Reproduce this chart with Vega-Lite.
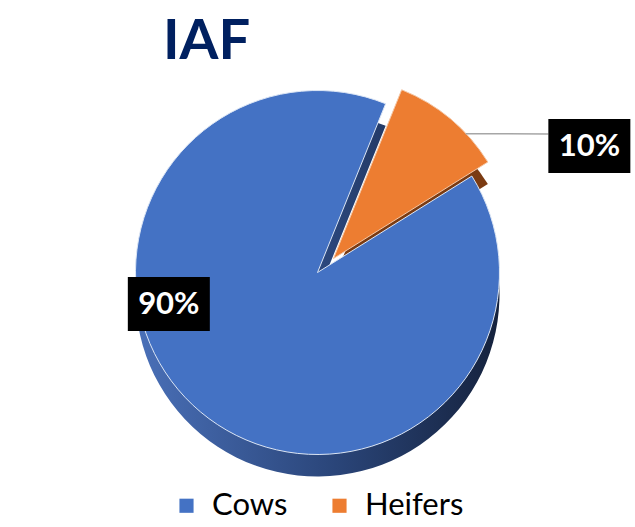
{
  "$schema": "https://vega.github.io/schema/vega-lite/v6.json",
  "width": 635,
  "height": 527,
  "autosize": {"type": "fit", "contains": "padding"},
  "padding": {"top": 14, "left": 0, "right": 0, "bottom": 6},
  "background": "white",
  "title": {"text": "IAF", "anchor": "start", "dx": 163, "font": "Lato", "fontSize": 56, "fontWeight": "bold", "color": "#002060", "offset": 2},
  "data": {"values": [
    {"category": "Cows", "value": 90, "label": "90%"},
    {"category": "Heifers", "value": 10, "label": "10%"}
  ]},
  "transform": [
    {"stack": "value", "groupby": [], "sort": [{"field": "category", "order": "descending"}], "as": ["v0", "v1"]},
    {"calculate": "(datum.v0 + datum.v1) / 2", "as": "vm"}
  ],
  "layer": [
    {
      "transform": [{"filter": "datum.category === 'Cows'"}],
      "mark": {"type": "arc", "radius": 182, "yOffset": 22,
        "fill": {"gradient": "linear", "x1": 0, "y1": 0, "x2": 1, "y2": 0,
          "stops": [{"offset": 0, "color": "#4A70B8"}, {"offset": 0.55, "color": "#2A4579"}, {"offset": 1, "color": "#15223D"}]}},
      "encoding": {
        "theta": {"field": "v0", "type": "quantitative", "scale": {"domain": [0, 100], "range": [0.384, 6.667]}},
        "theta2": {"field": "v1"}
      }
    },
    {
      "transform": [{"filter": "datum.category === 'Heifers'"}],
      "mark": {"type": "arc", "radius": 182, "xOffset": 16, "yOffset": 8, "fill": "#7B3B12"},
      "encoding": {
        "theta": {"field": "v0", "type": "quantitative", "scale": {"domain": [0, 100], "range": [0.384, 6.667]}},
        "theta2": {"field": "v1"}
      }
    },
    {
      "transform": [{"filter": "datum.category === 'Cows'"}],
      "mark": {"type": "arc", "radius": 182, "stroke": "#DCE6F5", "strokeWidth": 1},
      "encoding": {
        "theta": {"field": "v0", "type": "quantitative", "scale": {"domain": [0, 100], "range": [0.384, 6.667]}},
        "theta2": {"field": "v1"},
        "color": {"field": "category", "type": "nominal",
          "scale": {"domain": ["Cows", "Heifers"], "range": ["#4472C4", "#ED7D31"]},
          "legend": {"title": null, "orient": "bottom", "direction": "horizontal", "symbolType": "square", "symbolSize": 200, "symbolStrokeWidth": 0, "labelFont": "Lato", "labelFontSize": 31, "labelColor": "black", "columnPadding": 36, "labelOffset": 10}}
      }
    },
    {
      "transform": [{"filter": "datum.category === 'Heifers'"}],
      "mark": {"type": "arc", "radius": 182, "xOffset": 16, "yOffset": -14, "stroke": "#F4C7A6", "strokeWidth": 1},
      "encoding": {
        "theta": {"field": "v0", "type": "quantitative", "scale": {"domain": [0, 100], "range": [0.384, 6.667]}},
        "theta2": {"field": "v1"},
        "color": {"field": "category", "type": "nominal",
          "scale": {"domain": ["Cows", "Heifers"], "range": ["#4472C4", "#ED7D31"]},
          "legend": {"title": null, "orient": "bottom", "direction": "horizontal", "symbolType": "square", "symbolSize": 200, "symbolStrokeWidth": 0, "labelFont": "Lato", "labelFontSize": 31, "labelColor": "black", "columnPadding": 36, "labelOffset": 10}}
      }
    },
    {
      "transform": [
        {"calculate": "0.384 + datum.vm / 100 * 2 * PI + (datum.category === 'Cows' ? 0.663 : 0.436)", "as": "ang"},
        {"calculate": "datum.category === 'Cows' ? 152 : 300", "as": "lr"},
        {"calculate": "datum.lr * sin(datum.ang)", "as": "lx"},
        {"calculate": "datum.lr * cos(datum.ang)", "as": "ly"},
        {"calculate": "0.384 + datum.v1 / 100 * 2 * PI - 0.2", "as": "ea"},
        {"calculate": "182 * sin(datum.ea) + 16", "as": "sx"},
        {"calculate": "182 * cos(datum.ea) + 14", "as": "sy"},
        {"calculate": "datum.lx - 41", "as": "ex"},
        {"calculate": "datum.ly + 12", "as": "ey"}
      ],
      "layer": [
        {
          "transform": [{"filter": "datum.category === 'Heifers'"}],
          "mark": {"type": "rule", "color": "#A6A6A6", "strokeWidth": 1.5},
          "encoding": {
            "x": {"field": "sx", "type": "quantitative", "scale": {"domain": [-317.5, 317.5], "nice": false, "zero": false}, "axis": null},
            "y": {"field": "sy", "type": "quantitative", "scale": {"domain": [-200, 200], "nice": false, "zero": false}, "axis": null},
            "x2": {"field": "ex"},
            "y2": {"field": "ey"}
          }
        },
        {
          "mark": {"type": "point", "shape": "M-1,-0.66L1,-0.66L1,0.66L-1,0.66Z", "size": 6724, "filled": true, "fill": "black", "opacity": 1, "strokeWidth": 0},
          "encoding": {
            "x": {"field": "lx", "type": "quantitative", "scale": {"domain": [-317.5, 317.5], "nice": false, "zero": false}, "axis": null},
            "y": {"field": "ly", "type": "quantitative", "scale": {"domain": [-200, 200], "nice": false, "zero": false}, "axis": null}
          }
        },
        {
          "mark": {"type": "text", "font": "Lato", "fontWeight": "bold", "fontSize": 31, "fill": "white", "dy": 1},
          "encoding": {
            "x": {"field": "lx", "type": "quantitative", "scale": {"domain": [-317.5, 317.5], "nice": false, "zero": false}, "axis": null},
            "y": {"field": "ly", "type": "quantitative", "scale": {"domain": [-200, 200], "nice": false, "zero": false}, "axis": null},
            "text": {"field": "label"}
          }
        }
      ]
    }
  ],
  "config": {"view": {"stroke": null}, "legend": {"layout": {"bottom": {"anchor": "middle"}}}}
}
